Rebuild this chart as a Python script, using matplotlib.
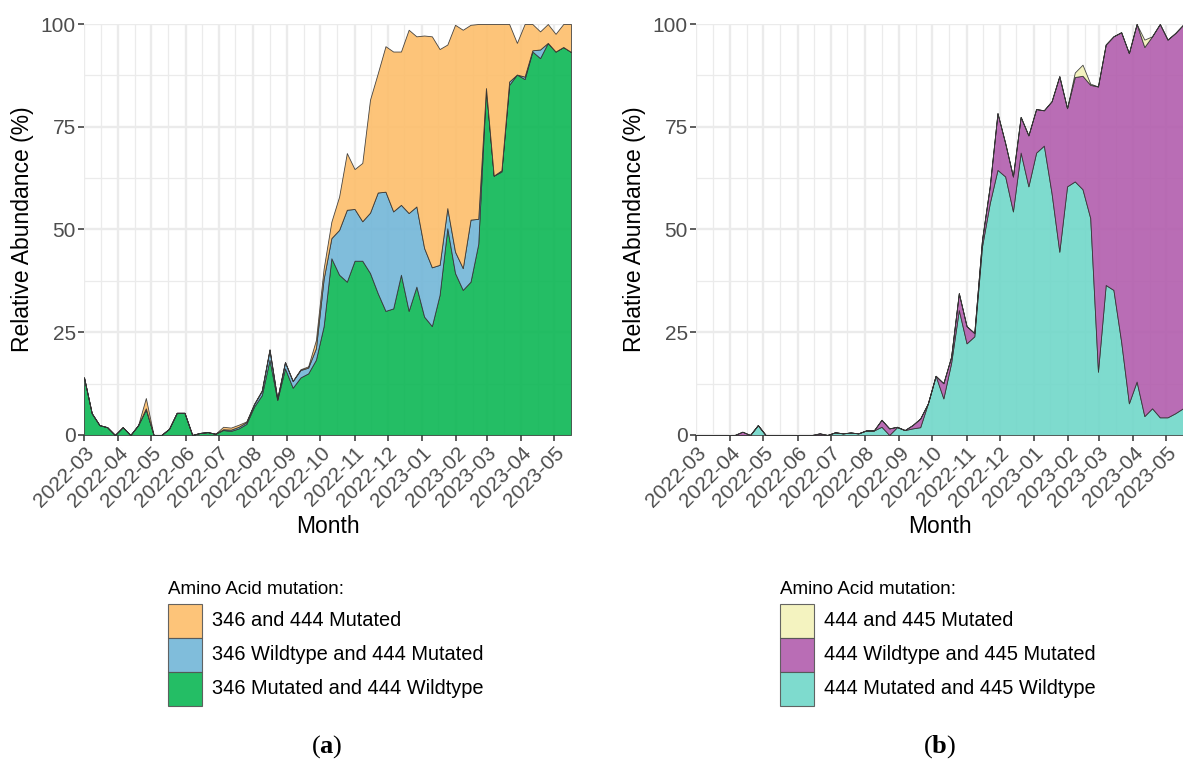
import numpy as np
import pandas as pd
import matplotlib
matplotlib.use("Agg")
import matplotlib.pyplot as plt
import matplotlib.dates as mdates
from matplotlib.patches import Rectangle

plt.rcParams['font.family'] = ['Liberation Sans', 'DejaVu Sans']
plt.rcParams['mathtext.fontset'] = 'custom'
plt.rcParams['mathtext.rm'] = 'Liberation Serif'
plt.rcParams['mathtext.bf'] = 'Liberation Serif:bold'

# weekly sampling dates
weeks = pd.date_range("2022-03-01", periods=64, freq="7D")

# panel (a): 346 / 444
mut346_wt444 = [14, 5.3, 2.4, 1.9, 0, 1.9, 0, 2.4, 6.2, 0,
                0, 1.5, 5.4, 5.4, 0, 0.5, 0.7, 0.3, 1.2, 1.0,
                1.6, 2.7, 6.9, 9.7, 18.3, 8.5, 16.2, 11.5, 14.0, 15.0,
                18.3, 26.5, 43, 39, 37.3, 42.4, 42.4, 39.4, 34.5, 30.2,
                30.8, 39, 30.2, 36.1, 28.8, 26.5, 34.1, 50.3, 39.4, 35.3,
                37.3, 46.5, 84.4, 63.1, 64.1, 85.2, 87.7, 86.6, 93.3, 91.7,
                95.4, 93.3, 94.4, 93.2]
wt346_mut444 = [0, 0, 0, 0, 0, 0, 0, 0, 0.3, 0,
                0, 0, 0, 0, 0, 0, 0, 0, 0.2, 0.3,
                0.4, 0.4, 0.6, 1.0, 2.4, 0.3, 1.5, 1.6, 1.8, 1.4,
                2.8, 11.5, 4.9, 10.9, 17.5, 12.6, 9.6, 14.7, 24.5, 29,
                23.6, 17, 23.8, 19.5, 16.7, 14.3, 7.3, 4.9, 5.2, 5.3,
                15.1, 6.1, 0, 0, 0.3, 0.8, 0, 0.6, 0.3, 2.1,
                0, 0, 0, 0]
mut346_mut444 = [0, 0, 0, 0, 0, 0, 0, 0, 2.5, 0,
                 0, 0, 0, 0, 0, 0, 0, 0, 0.6, 0.5,
                 0.5, 0.2, 0.1, 0.2, 0.2, 0, 0.1, 0.1, 0.2, 0.3,
                 2.0, 2.5, 4.0, 8.1, 13.8, 9.7, 14.2, 27.5, 29, 35.4,
                 38.9, 37.3, 44.6, 41.4, 51.7, 56.2, 52.5, 39.8, 55.2, 58,
                 47.4, 47.4, 15.6, 36.9, 35.6, 14, 7.7, 12.8, 6.4, 4.4,
                 4.6, 4.3, 5.6, 6.8]

# panel (b): 444 / 445
mut444_wt445 = [0, 0, 0, 0, 0, 0, 0, 0, 2.4, 0,
                0, 0, 0, 0, 0, 0, 0, 0, 0.65, 0.4,
                0.6, 0.4, 1.1, 1.1, 2.0, 0, 1.9, 1.2, 1.6, 1.9,
                7.7, 14.4, 8.9, 17.5, 30.4, 22.3, 24, 45.9, 56.4, 64.5,
                62.9, 54.4, 68.7, 60.5, 68.7, 70.4, 58.8, 44.6, 60.5, 61.7,
                59.8, 52.8, 15.4, 36.5, 35.3, 22.7, 7.7, 13, 4.6, 6.5,
                4.3, 4.3, 5.3, 6.5]
wt444_mut445 = [0, 0, 0, 0, 0, 0, 0.8, 0, 0, 0,
                0, 0, 0, 0, 0, 0, 0.4, 0, 0, 0,
                0, 0, 0, 0, 1.7, 1.6, 0.1, 0, 0.8, 2.1,
                0, 0, 3.7, 1.5, 4.1, 4.2, 0.8, 1.6, 4.1, 13.8,
                8.1, 8.5, 8.7, 12.4, 10.6, 8.6, 22.4, 42.7, 19, 25.4,
                27.6, 32.4, 69.4, 58.5, 61.7, 75.3, 85.2, 87, 89.8, 90.5,
                95.7, 91.9, 92.5, 93.3]
mut444_mut445 = [0] * 49 + [1.1, 2.7, 0.3, 0, 0, 0, 0, 0, 0, 1.8, 0,
                            0, 0, 0, 0]

panels = [
    {
        "layers": [mut346_wt444, wt346_mut444, mut346_mut444],
        "colors": ["#0cb754", "#72b6d8", "#fdbe6b"],
        "labels": ["346 Mutated and 444 Wildtype", "346 Wildtype and 444 Mutated",
                   "346 and 444 Mutated"],
        "left": 84, "legend_x": 168, "tag": "a", "tag_x": 327,
    },
    {
        "layers": [mut444_wt445, wt444_mut445, mut444_mut445],
        "colors": ["#70d7c9", "#b25dad", "#f3f2b9"],
        "labels": ["444 Mutated and 445 Wildtype", "444 Wildtype and 445 Mutated",
                   "444 and 445 Mutated"],
        "left": 696, "legend_x": 780, "tag": "b", "tag_x": 940,
    },
]

W, H = 1183, 767
fig = plt.figure(figsize=(W / 100, H / 100), dpi=100)

def fx(px):
    return px / W

def fy(py):
    return 1 - py / H

for p in panels:
    ax = fig.add_axes([fx(p["left"]), fy(435), fx(487), 411 / H])
    ax.stackplot(weeks, *p["layers"], colors=p["colors"], alpha=0.9,
                 edgecolor="#333333", linewidth=0.6)
    ax.set_xlim(weeks[0], weeks[-1])
    ax.set_ylim(0, 100)
    ax.set_yticks([0, 25, 50, 75, 100])
    ax.set_yticks([12.5, 37.5, 62.5, 87.5], minor=True)
    ax.xaxis.set_major_locator(mdates.MonthLocator())
    ax.xaxis.set_minor_locator(mdates.MonthLocator(bymonthday=16))
    ax.xaxis.set_major_formatter(mdates.DateFormatter("%Y-%m"))
    ax.grid(which="major", color="#ebebeb", linewidth=1.7)
    ax.grid(which="minor", color="#ebebeb", linewidth=0.9)
    ax.set_axisbelow(True)
    for s in ax.spines.values():
        s.set_visible(False)
    ax.tick_params(which="major", length=4, width=1.1, color="#333333",
                   labelsize=15, labelcolor="#4d4d4d", pad=2)
    ax.tick_params(which="minor", length=0)
    for lab in ax.get_xticklabels():
        lab.set_rotation(45)
        lab.set_ha("right")
        lab.set_rotation_mode("anchor")
    ax.set_xlabel("Month", fontsize=16.5, labelpad=3)
    ax.set_ylabel("Relative Abundance (%)", fontsize=16.5, labelpad=5)

    # legend below the panel
    lx = p["legend_x"]
    fig.text(fx(lx), fy(590), "Amino Acid mutation:", fontsize=13.5,
             va="center", ha="left")
    for k, idx in enumerate([2, 1, 0]):
        top = 604 + 34 * k
        fig.add_artist(Rectangle((fx(lx), fy(top + 34)), fx(34), 34 / H,
                                 transform=fig.transFigure,
                                 facecolor=p["colors"][idx], alpha=0.9,
                                 edgecolor="#555555", linewidth=0.8))
        fig.text(fx(lx + 44), fy(top + 17), p["labels"][idx], fontsize=14.4,
                 va="center", ha="left")

    fig.text(fx(p["tag_x"]), fy(747), r"$\mathrm{(}\mathbf{%s}\mathrm{)}$" % p["tag"],
             fontsize=19, ha="center", va="center")

fig.savefig("out.png", dpi=100)
